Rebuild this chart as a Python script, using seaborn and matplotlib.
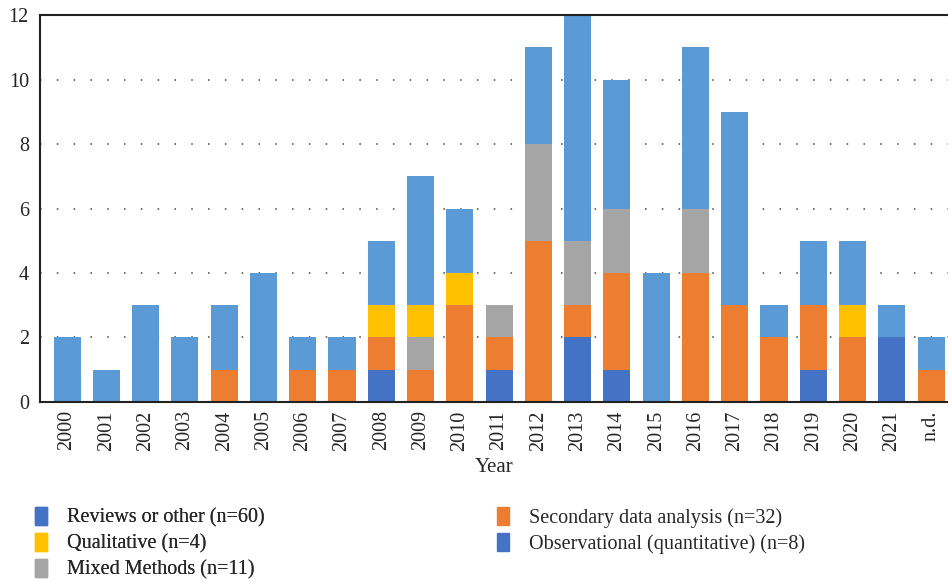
import numpy as np
import matplotlib
import matplotlib.pyplot as plt
import matplotlib.patches as mpatches
import seaborn as sns

matplotlib.use('Agg')

# Data
years = ['2000', '2001', '2002', '2003', '2004', '2005', '2006', '2007', '2008', '2009', '2010',
         '2011', '2012', '2013', '2014', '2015', '2016', '2017', '2018', '2019', '2020', '2021', 'n.d.']
observational = [0, 0, 0, 0, 0, 0, 0, 0, 1, 0, 0, 1, 0, 2, 1, 0, 0, 0, 0, 1, 0, 2, 0]
secondary = [0, 0, 0, 0, 1, 0, 1, 1, 1, 1, 3, 1, 5, 1, 3, 0, 4, 3, 2, 2, 2, 0, 1]
mixed = [0, 0, 0, 0, 0, 0, 0, 0, 0, 1, 0, 1, 3, 2, 2, 0, 2, 0, 0, 0, 0, 0, 0]
qualitative = [0, 0, 0, 0, 0, 0, 0, 0, 1, 1, 1, 0, 0, 0, 0, 0, 0, 0, 0, 0, 1, 0, 0]
reviews = [2, 1, 3, 2, 2, 4, 1, 1, 2, 4, 2, 0, 3, 7, 4, 4, 5, 6, 1, 2, 2, 1, 1]

series = [
    ('Observational (quantitative) (n=8)', observational, '#4472C4'),
    ('Secondary data analysis (n=32)', secondary, '#ED7D31'),
    ('Mixed Methods (n=11)', mixed, '#A5A5A5'),
    ('Qualitative (n=4)', qualitative, '#FFC000'),
    ('Reviews or other (n=60)', reviews, '#5B9BD5'),
]

sns.set_style('white')
plt.rcParams['font.family'] = ['Liberation Serif', 'DejaVu Serif']

fig = plt.figure(figsize=(9.48, 5.82), dpi=100)
ax = fig.add_axes([0.0422, 0.3093, 0.9578, 0.6649])

bottom = np.zeros(len(years))
for name, vals, col in series:
    sns.barplot(x=years, y=vals, order=years, color=col, saturation=1, width=0.69,
                errorbar=None, bottom=bottom, linewidth=0, ax=ax)
    bottom = bottom + np.array(vals)

ax.set_ylim(0, 12)
ax.set_xlim(-0.69, 22.43)
ax.set_yticks(range(0, 13, 2))
for y in range(2, 12, 2):
    ax.axhline(y, color='#444444', linestyle=(0, (1, 10)), linewidth=1.1, zorder=0)

ax.tick_params(axis='x', labelrotation=90, labelsize=14.5, length=0, pad=6)
ax.tick_params(axis='y', labelsize=14.5, length=0, pad=8)
ax.set_xlabel('Year', fontsize=15, labelpad=5)
ax.set_ylabel('')

for side in ['left', 'bottom', 'top']:
    ax.spines[side].set_visible(True)
    ax.spines[side].set_color('#222222')
    ax.spines[side].set_linewidth(1.5)
ax.spines['right'].set_visible(False)

# Legend (the reference uses the darker blue swatch for reviews too)
left_handles = [mpatches.Patch(color='#4472C4', label='Reviews or other (n=60)'),
                mpatches.Patch(color='#FFC000', label='Qualitative (n=4)'),
                mpatches.Patch(color='#A5A5A5', label='Mixed Methods (n=11)')]
right_handles = [mpatches.Patch(color='#ED7D31', label='Secondary data analysis (n=32)'),
                 mpatches.Patch(color='#4472C4', label='Observational (quantitative) (n=8)')]

leg_kw = dict(loc='upper left', frameon=False, fontsize=14.5, handlelength=0.6,
              handleheight=1.0, handletextpad=1.0, labelspacing=0.25, borderaxespad=0)
leg1 = fig.legend(handles=left_handles, bbox_to_anchor=(0.028, 0.143), **leg_kw)
fig.add_artist(leg1)
fig.legend(handles=right_handles, bbox_to_anchor=(0.5155, 0.143), **leg_kw)

fig.savefig('out.png', dpi=100)
plt.close(fig)
